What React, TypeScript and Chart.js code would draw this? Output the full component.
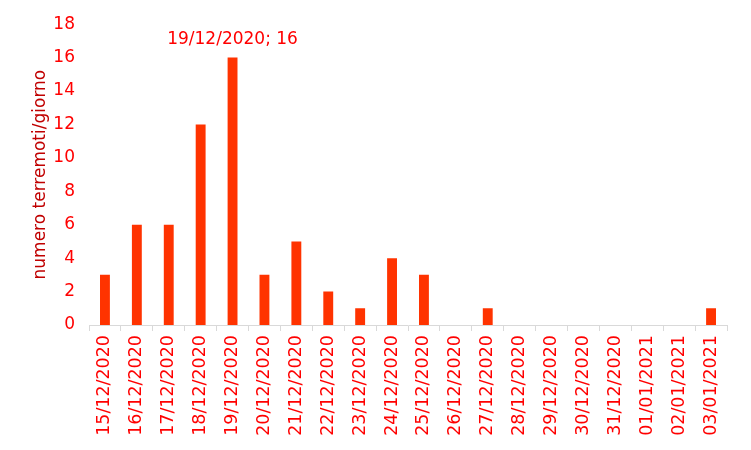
import React, { useEffect, useRef } from "react";
import { Chart, registerables } from "chart.js";

Chart.register(...registerables);

const categories = [
  "15/12/2020", "16/12/2020", "17/12/2020", "18/12/2020", "19/12/2020",
  "20/12/2020", "21/12/2020", "22/12/2020", "23/12/2020", "24/12/2020",
  "25/12/2020", "26/12/2020", "27/12/2020", "28/12/2020", "29/12/2020",
  "30/12/2020", "31/12/2020", "01/01/2021", "02/01/2021", "03/01/2021",
];
const counts = [3, 6, 6, 12, 16, 3, 5, 2, 1, 4, 3, 0, 1, 0, 0, 0, 0, 0, 0, 1];
const annotatedIndex = 4;
const yTitle = "numero terremoti/giorno";

const FONT = "'DejaVu Sans', Verdana, sans-serif";

const labelPlugin = {
  id: "pointLabel",
  afterDatasetsDraw(chart: any) {
    const meta = chart.getDatasetMeta(0);
    const el = meta.data[annotatedIndex];
    if (!el) return;
    const ctx = chart.ctx;
    ctx.save();
    ctx.font = `17px ${FONT}`;
    ctx.fillStyle = "#FF0000";
    ctx.textAlign = "center";
    ctx.textBaseline = "middle";
    const text = `${categories[annotatedIndex]}; ${counts[annotatedIndex]}`;
    ctx.fillText(text, el.x, el.y - 18);
    ctx.restore();
  },
};

export default function App() {
  const ref = useRef<HTMLCanvasElement>(null);
  useEffect(() => {
    if (!ref.current) return;
    const chart = new Chart(ref.current, {
      type: "bar",
      data: {
        labels: categories,
        datasets: [
          {
            data: counts,
            backgroundColor: "#FF3300",
            borderWidth: 0,
            barPercentage: 0.62,
            categoryPercentage: 0.5,
          },
        ],
      },
      options: {
        responsive: false,
        animation: false,
        maintainAspectRatio: false,
        layout: { padding: { top: 15, right: 16, bottom: 0, left: 22 } },
        plugins: {
          legend: { display: false },
          tooltip: { enabled: false },
        },
        scales: {
          x: {
            offset: true,
            grid: {
              offset: true,
              drawOnChartArea: false,
              drawTicks: true,
              tickLength: 6,
              color: "#D9D9D9",
            },
            border: { color: "#D9D9D9", width: 1 },
            ticks: {
              color: "#FF0000",
              font: { family: FONT, size: 17.5 },
              minRotation: 90,
              maxRotation: 90,
              autoSkip: false,
              padding: 4,
            },
            afterFit(scale: any) {
              scale.height = 117;
            },
          },
          y: {
            min: 0,
            max: 18,
            grid: { display: false },
            border: { display: false },
            ticks: {
              stepSize: 2,
              color: "#FF0000",
              font: { family: FONT, size: 17 },
              padding: 6,
            },
            title: {
              display: true,
              text: yTitle,
              color: "#C00000",
              font: { family: FONT, size: 17 },
              padding: { top: 0, bottom: 4 },
            },
            afterFit(scale: any) {
              scale.width = 59;
            },
          },
        },
      },
      plugins: [labelPlugin],
    });
    return () => chart.destroy();
  }, []);
  return (
    <div style={{ width: 735, height: 434 }}>
      <canvas ref={ref} width={735} height={434} style={{ display: "block" }} />
    </div>
  );
}
